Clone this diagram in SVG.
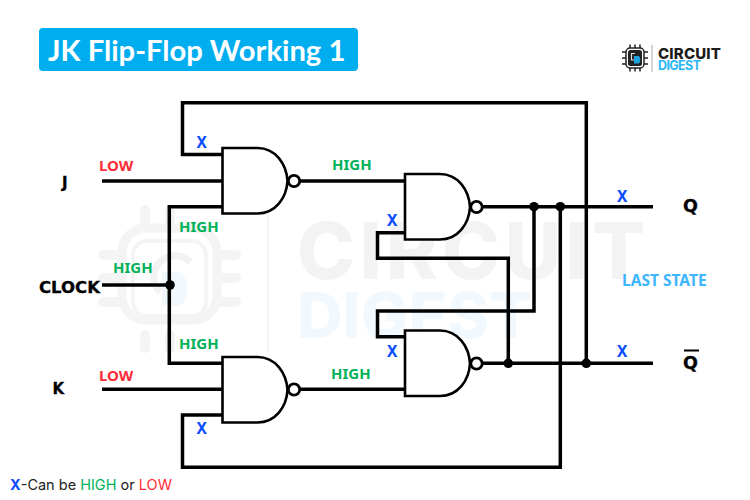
<svg xmlns="http://www.w3.org/2000/svg" width="750" height="500" viewBox="0 0 750 500">
<defs><style>
.w{fill:none;stroke:#000;stroke-width:3.5;stroke-linejoin:miter}
.g{fill:#fff;stroke:#000;stroke-width:2.6}
.b{fill:#fff;stroke:#000;stroke-width:2.8}
.t{font-family:"Noto Sans","Open Sans",sans-serif;font-weight:700;font-size:15px}
.tx{font-size:15.500px}
.h{fill:#00b259}.l{fill:#ff2b36}.x{fill:#0a4dff}
.n{font-family:"DejaVu Sans",sans-serif;font-weight:700;fill:#000;stroke:#000;stroke-width:.3}
.wm{fill:none;stroke:#f4f4f4;stroke-linecap:round}
.pin{stroke:#222;stroke-width:1.500}
</style>
<path id="gate" d="M0 0H35C53 0 64 16 65 33C64 50 53 65.500 35 65.500H0Z"/>
</defs>
<rect width="750" height="500" fill="#fff"/>
<g id="watermark">
<g class="wm">
<path stroke-width="10" d="M145 210V223M170 210V223M145 335V348M170 335V348M103 255H117M103 278H117M103 302H117M222 255H236M222 278H236M222 302H236"/>
<rect x="122" y="228" width="95" height="92" rx="24" stroke-width="9"/>
<rect x="133" y="241" width="73" height="75" rx="14" stroke-width="4"/>
<path stroke-width="2" d="M268 205V352" stroke-linecap="butt"/>
</g>
<path d="M190 262A18 18 0 1 0 160 292" fill="none" stroke="#f2f2f2" stroke-width="7"/>
<path d="M162 272H178C190 272 190 306 178 306H162Z" fill="#f1f9fe"/>
<text x="297" y="279" font-family="Inter,sans-serif" font-weight="800" font-size="78" fill="#f3f3f3" textLength="348">CIRCUIT</text>
<text x="297" y="338" font-family="Inter,sans-serif" font-weight="800" font-size="63" fill="#f1f9fe" textLength="235">DIGEST</text>
</g>
<g id="connectors" class="w">
<path d="M222 154.500H182.500V102.700H586.300V363.300"/>
<path d="M102 181H222"/>
<path d="M222 206.700H169.300V363.300H222"/>
<path d="M102 285H169"/>
<path d="M102 389.300H222"/>
<path d="M222 415H182.500V467.300H560.300V207"/>
<path d="M300 181H405"/>
<path d="M300 389.300H405"/>
<path d="M482 206.700H653"/>
<path d="M482 363.300H653"/>
<path d="M405 232.700H377.500V258.300H508.300V363"/>
<path d="M405 336.700H377.500V311H534V207"/>
</g>
<g id="dots" fill="#000"><circle cx="170" cy="285" r="4.800"/><circle cx="534" cy="206.700" r="4.800"/><circle cx="560.300" cy="206.700" r="4.800"/><circle cx="508.300" cy="363.300" r="4.800"/><circle cx="586.300" cy="363.300" r="4.800"/></g>
<g id="nand1"><use href="#gate" x="222.500" y="148" class="g"/><circle class="b" cx="294" cy="181" r="5.700"/></g>
<g id="nand2"><use href="#gate" x="222.500" y="357" class="g"/><circle class="b" cx="294" cy="389.500" r="5.700"/></g>
<g id="nand3"><use href="#gate" x="405" y="174" class="g"/><circle class="b" cx="476.500" cy="207" r="5.700"/></g>
<g id="nand4"><use href="#gate" x="405" y="330.500" class="g"/><circle class="b" cx="476.500" cy="363.500" r="5.700"/></g>
<g id="title"><rect x="39" y="28" width="319" height="43" rx="4" fill="#00aeef"/>
<text x="48" y="61" font-family="Lato,sans-serif" font-weight="700" font-size="29.200" fill="#fff">JK Flip-Flop Working 1</text></g>
<g id="logo">
<path class="pin" d="M630 44.500V71.500M635 44.500V71.500M640 44.500V71.500M622 52H648M622 58H648M622 64H648"/>
<rect x="626" y="48" width="18" height="20" rx="4" fill="#fff" stroke="#222" stroke-width="1.500"/>
<rect x="628" y="50" width="14" height="16" rx="2.500" fill="#222"/>
<path d="M635 53.500H631.500V60H634" fill="none" stroke="#ddd" stroke-width="1.200"/>
<path d="M634 56H638C641 56 641 63.500 638 63.500H634Z" fill="#1ba6e0"/>
<path d="M652 45V72" stroke="#aaa" stroke-width="1"/>
<text x="658" y="59" font-family="Inter,sans-serif" font-weight="800" font-size="15" fill="#1c1c1c" textLength="63">CIRCUIT</text>
<text x="658" y="69.500" font-family="Inter,sans-serif" font-weight="700" font-size="12.500" fill="#29b6f6" textLength="43">DIGEST</text>
</g>
<g id="labels">
<text class="n" x="62" y="188" font-size="15">J</text>
<text class="n" x="39" y="293" font-size="15" textLength="61" lengthAdjust="spacingAndGlyphs">CLOCK</text>
<text class="n" x="52.500" y="394" font-size="15">K</text>
<text class="n" x="683" y="212" font-size="17.500">Q</text>
<text class="n" x="683" y="369" font-size="17.500">Q</text>
<path d="M684 350.500H699" stroke="#000" stroke-width="2"/>
<text class="t l" x="99" y="171">LOW</text><text class="t l" x="99" y="381">LOW</text>
<text class="t h" x="332" y="170">HIGH</text><text class="t h" x="179" y="232">HIGH</text><text class="t h" x="113" y="273">HIGH</text><text class="t h" x="179" y="349">HIGH</text><text class="t h" x="331" y="379">HIGH</text>
<text class="t tx x" x="196.500" y="148">X</text><text class="t tx x" x="196.500" y="434">X</text><text class="t tx x" x="387" y="226">X</text><text class="t tx x" x="387" y="357">X</text><text class="t tx x" x="617" y="202">X</text><text class="t tx x" x="617" y="357">X</text>
<text x="622" y="286" font-family="'Noto Sans',sans-serif" font-weight="700" font-size="15.500" fill="#3db5ff">LAST STATE</text>
<text x="10" y="490" font-family="Inter,'Noto Sans',sans-serif" font-size="14.500" fill="#222"><tspan class="x" font-weight="700">X</tspan>-Can be <tspan class="h" font-weight="400">HIGH</tspan> or <tspan class="l">LOW</tspan></text>
</g>
</svg>
